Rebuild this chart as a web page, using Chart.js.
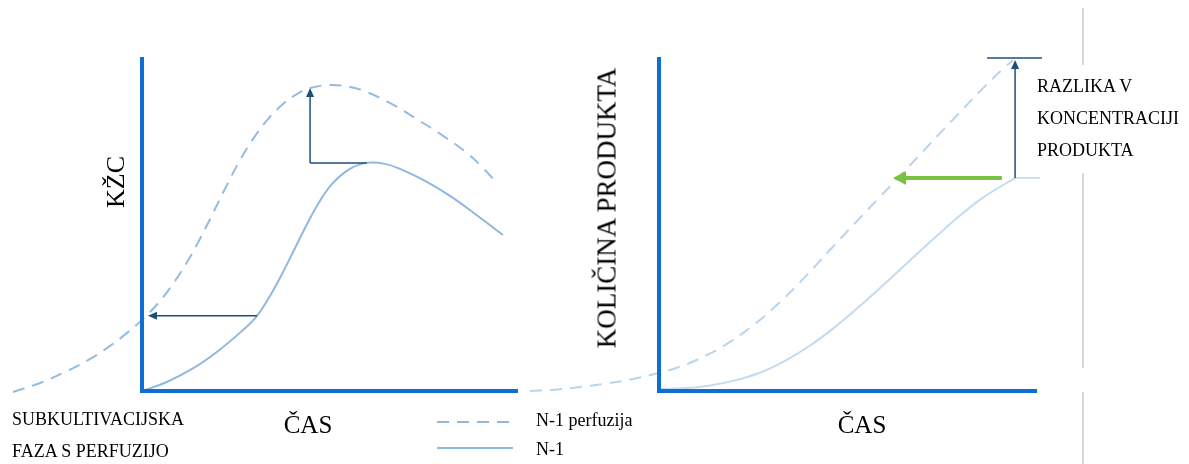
<!DOCTYPE html>
<html lang="sl">
<head>
  <meta charset="UTF-8">
  <title>N-1 perfuzija | KŽC in količina produkta</title>
  <script src="https://cdn.jsdelivr.net/npm/chart.js"></script>
  <style>
    body {
      margin: 0;
      background: #fff;
    }
    .wrap {
      position: relative;
      width: 1189px;
      height: 464px;
      font-family: "Liberation Serif", "Times New Roman", serif;
      color: #000;
    }
    canvas {
      position: absolute;
      left: 0;
      top: 0;
    }
    .lbl {
      position: absolute;
      line-height: 1;
      white-space: nowrap;
    }
    .center {
      transform: translate(-50%, -50%);
    }
    .rot {
      transform: translate(-50%, -50%) rotate(-90deg);
    }
  </style>
</head>
<body>
  <div class="wrap">
    <canvas id="kzcChart" width="1189" height="464"></canvas>
    <canvas id="productChart" width="1189" height="464"></canvas>

    <!-- levi graf -->
    <div class="lbl rot" style="left:116px; top:182px; font-size:26px;">KŽC</div>
    <div class="lbl center" style="left:308px; top:424px; font-size:25px;">ČAS</div>
    <div class="lbl" style="left:12px; top:410px; font-size:18px;">SUBKULTIVACIJSKA</div>
    <div class="lbl" style="left:12px; top:442px; font-size:18px;">FAZA S PERFUZIJO</div>
    <div class="lbl" style="left:536px; top:411px; font-size:18px;">N-1 perfuzija</div>
    <div class="lbl" style="left:536px; top:440px; font-size:18px;">N-1</div>

    <!-- desni graf -->
    <div class="lbl rot" style="left:607px; top:208px; font-size:27px;">KOLIČINA PRODUKTA</div>
    <div class="lbl center" style="left:862px; top:424px; font-size:25px;">ČAS</div>
    <div class="lbl" style="left:1037px; top:77px; font-size:18px;">RAZLIKA V</div>
    <div class="lbl" style="left:1037px; top:109px; font-size:18px;">KONCENTRACIJI</div>
    <div class="lbl" style="left:1037px; top:141px; font-size:18px;">PRODUKTA</div>
  </div>

  <script>
    // KŽC (levi graf), čas 0-100 od osi naprej, vrednost 0-100
    const kzcTimeN1 = [0, 6.6, 13.3, 19.9, 26.6, 30.6, 34.0, 37.5, 40.7, 43.9, 47.3, 50.8, 55.3, 59.8, 64.6, 68.6, 75.3, 81.9, 88.6, 96.0];
    const kzcN1 = [0, 2.7, 6.6, 11.7, 18.0, 22.5, 28.4, 35.6, 42.8, 50.0, 56.9, 62.3, 66.5, 68.3, 68.0, 66.5, 62.9, 58.4, 53.0, 46.7];
    const kzcTimePerf = [-34.3, -27.1, -19.9, -13.8, -8.5, -4.3, 0, 4.3, 8.2, 12.0, 15.4, 18.9, 22.6, 26.1, 29.5, 33.5, 37.5, 41.2, 44.7, 50.0, 55.3, 59.8, 66.5, 73.1, 79.8, 86.4, 90.4, 94.4];
    const kzcPerf = [-0.3, 2.4, 6.0, 9.6, 13.5, 17.1, 21.3, 26.3, 32.0, 38.6, 45.5, 53.3, 61.7, 69.2, 75.4, 81.4, 85.9, 88.9, 90.7, 91.6, 91.0, 89.5, 85.9, 81.4, 76.6, 71.3, 67.1, 62.3];

    // količina produkta (desni graf)
    const prodTimeN1 = [0, 6.6, 13.2, 19.8, 26.5, 33.1, 39.7, 46.3, 52.9, 59.5, 66.1, 72.8, 79.4, 86.0, 94.2];
    const prodN1 = [0.6, 0.8, 1.6, 3.1, 5.4, 8.9, 13.4, 18.9, 25.2, 31.9, 38.8, 45.7, 52.3, 58.1, 63.8];
    const prodTimePerf = [-34.1, -27.5, -20.9, -14.3, -7.7, -1.1, 5.6, 12.2, 18.8, 25.4, 32.0, 38.6, 45.2, 51.9, 58.5, 65.1, 71.7, 78.3, 84.9, 91.5, 93.7];
    const prodPerf = [0, 0.4, 1.2, 2.2, 3.4, 5.1, 7.3, 10.5, 14.7, 20.1, 26.6, 34.1, 42.2, 50.3, 58.2, 66.0, 74.0, 81.9, 89.7, 97.0, 99.0];

    // puščice: [x1, y1, x2, y2] v enotah grafa
    const kzcArrowLeft = [30.6, 22.5, 1.6, 22.5];
    const kzcArrowUp = [44.7, 68.3, 44.7, 90.7];
    const kzcStep = [44.7, 68.3, 59.8, 68.3];
    const prodArrowUp = [94.2, 63.8, 94.2, 99.1];
    const prodTopBar = [86.8, 99.7, 101.3, 99.7];
    const prodBaseLine = [94.2, 63.8, 100.8, 63.8];
    const prodGreenArrow = [90.7, 63.8, 61.9, 63.8];

    const X_MIN = -36;
    const AXIS_BLUE = '#0f6fce';
    const NAVY = '#1f4e79';

    function toPoints(xs, ys) {
      return xs.map((x, i) => ({ x: x, y: ys[i] }));
    }

    function line(ctx, x1, y1, x2, y2) {
      ctx.beginPath();
      ctx.moveTo(x1, y1);
      ctx.lineTo(x2, y2);
      ctx.stroke();
    }

    function arrow(chart, seg, color, width, headLen, headW) {
      const ctx = chart.ctx;
      const sx = chart.scales.x, sy = chart.scales.y;
      const x1 = sx.getPixelForValue(seg[0]), y1 = sy.getPixelForValue(seg[1]);
      const x2 = sx.getPixelForValue(seg[2]), y2 = sy.getPixelForValue(seg[3]);
      const ang = Math.atan2(y2 - y1, x2 - x1);
      ctx.save();
      ctx.strokeStyle = color;
      ctx.fillStyle = color;
      ctx.lineWidth = width;
      line(ctx, x1, y1, x2 - Math.cos(ang) * headLen * 0.6, y2 - Math.sin(ang) * headLen * 0.6);
      ctx.beginPath();
      ctx.moveTo(x2, y2);
      ctx.lineTo(x2 - Math.cos(ang) * headLen - Math.sin(ang) * headW, y2 - Math.sin(ang) * headLen + Math.cos(ang) * headW);
      ctx.lineTo(x2 - Math.cos(ang) * headLen + Math.sin(ang) * headW, y2 - Math.sin(ang) * headLen - Math.cos(ang) * headW);
      ctx.closePath();
      ctx.fill();
      ctx.restore();
    }

    function segment(chart, seg, color, width) {
      const ctx = chart.ctx;
      const sx = chart.scales.x, sy = chart.scales.y;
      ctx.save();
      ctx.strokeStyle = color;
      ctx.lineWidth = width;
      line(ctx, sx.getPixelForValue(seg[0]), sy.getPixelForValue(seg[1]),
        sx.getPixelForValue(seg[2]), sy.getPixelForValue(seg[3]));
      ctx.restore();
    }

    function drawAxes(chart) {
      const ctx = chart.ctx;
      const x0 = chart.scales.x.getPixelForValue(0);
      const x1 = chart.scales.x.getPixelForValue(100);
      const y0 = chart.scales.y.getPixelForValue(0);
      const y1 = chart.scales.y.getPixelForValue(100);
      ctx.save();
      ctx.strokeStyle = AXIS_BLUE;
      ctx.lineWidth = 4;
      line(ctx, x0, y1, x0, y0 + 2);
      line(ctx, x0 - 2, y0, x1, y0);
      ctx.restore();
    }

    const kzcExtras = {
      id: 'kzcExtras',
      afterDatasetsDraw(chart) {
        drawAxes(chart);
        arrow(chart, kzcArrowLeft, NAVY, 1.5, 9, 4);
        segment(chart, kzcStep, NAVY, 1.5);
        arrow(chart, kzcArrowUp, NAVY, 1.5, 9, 4);

        // legenda
        const ctx = chart.ctx;
        ctx.save();
        ctx.lineWidth = 2;
        ctx.strokeStyle = '#8fb8df';
        ctx.setLineDash([12, 8]);
        line(ctx, 437, 422, 513, 422);
        ctx.setLineDash([]);
        line(ctx, 437, 448, 513, 448);
        ctx.restore();
      }
    };

    const prodExtras = {
      id: 'prodExtras',
      afterDatasetsDraw(chart) {
        drawAxes(chart);
        segment(chart, prodTopBar, NAVY, 1.5);
        segment(chart, prodBaseLine, '#b9d5ee', 1.5);
        arrow(chart, prodArrowUp, NAVY, 1.5, 9, 4);
        arrow(chart, prodGreenArrow, '#7cc242', 4, 13, 7);

        // siva ločilna črta
        const ctx = chart.ctx;
        ctx.save();
        ctx.strokeStyle = '#d9d9d9';
        ctx.lineWidth = 2;
        line(ctx, 1083, 8, 1083, 65);
        line(ctx, 1083, 173, 1083, 368);
        line(ctx, 1083, 392, 1083, 464);
        ctx.restore();
      }
    };

    // levi rob tako, da je vrednost 0 točno na navpični osi
    function leftPad(axisPx, rightPx) {
      const f = (0 - X_MIN) / (100 - X_MIN);
      return (axisPx - f * rightPx) / (1 - f);
    }

    function baseOptions(axisPx, rightPx) {
      return {
        responsive: false,
        animation: false,
        layout: { padding: { left: leftPad(axisPx, rightPx), right: 1189 - rightPx, top: 57, bottom: 464 - 391 } },
        scales: {
          x: { type: 'linear', min: X_MIN, max: 100, display: false },
          y: { min: 0, max: 100, display: false }
        },
        plugins: {
          legend: { display: false },
          tooltip: { enabled: false }
        },
        elements: { point: { radius: 0 } }
      };
    }

    function curve(label, xs, ys, color, dashed) {
      return {
        label: label,
        data: toPoints(xs, ys),
        borderColor: color,
        borderWidth: 2,
        borderDash: dashed ? [12, 8] : [],
        tension: 0.4,
        fill: false,
        clip: false
      };
    }

    new Chart(document.getElementById('kzcChart'), {
      type: 'line',
      data: {
        datasets: [
          curve('N-1 perfuzija', kzcTimePerf, kzcPerf, '#94bce2', true),
          curve('N-1', kzcTimeN1, kzcN1, '#8fb8df', false)
        ]
      },
      options: baseOptions(142, 518),
      plugins: [kzcExtras]
    });

    new Chart(document.getElementById('productChart'), {
      type: 'line',
      data: {
        datasets: [
          curve('N-1 perfuzija', prodTimePerf, prodPerf, '#b9d4ec', true),
          curve('N-1', prodTimeN1, prodN1, '#c3dbf0', false)
        ]
      },
      options: baseOptions(659, 1037),
      plugins: [prodExtras]
    });
  </script>
</body>
</html>
